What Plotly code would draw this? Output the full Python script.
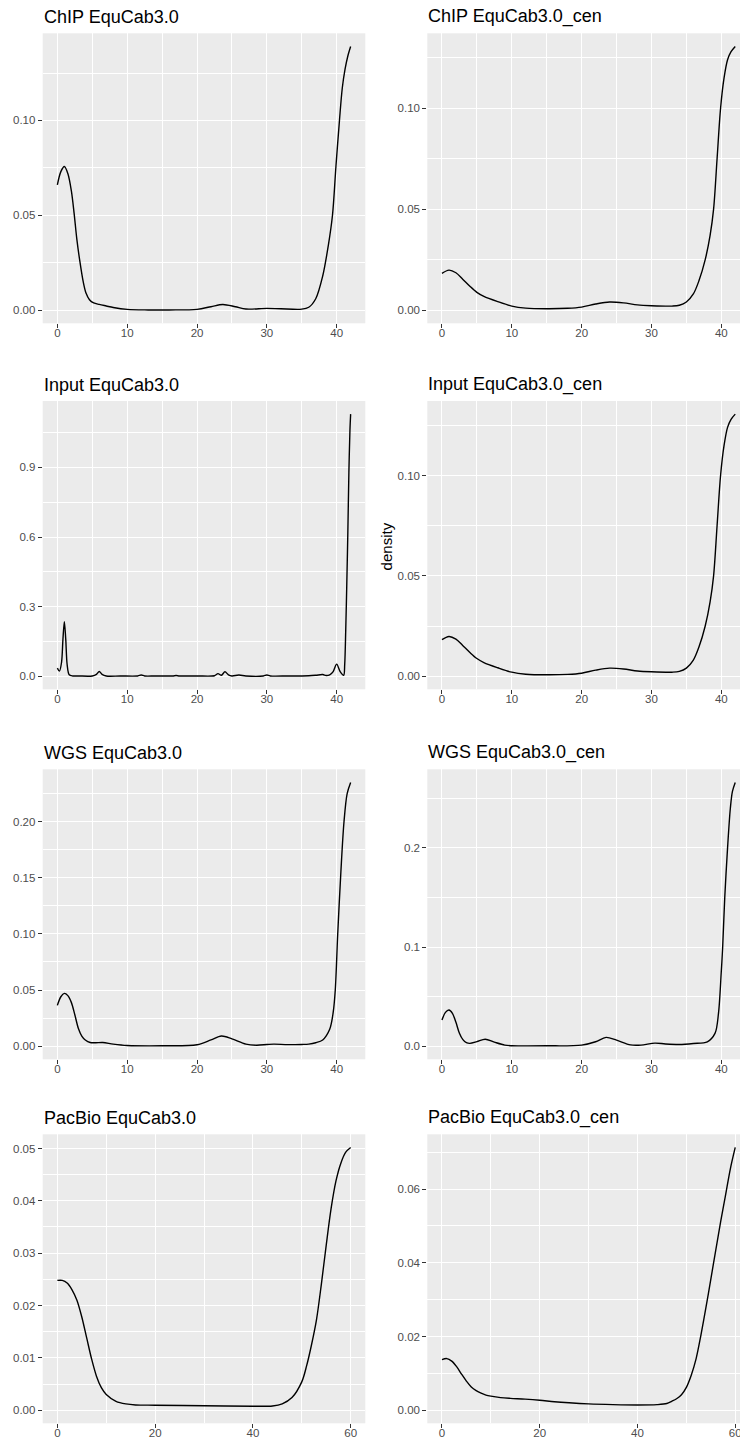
import plotly.graph_objects as go

# ---------------- data ----------------
titles = ["ChIP EquCab3.0", "ChIP EquCab3.0_cen",
          "Input EquCab3.0", "Input EquCab3.0_cen",
          "WGS EquCab3.0", "WGS EquCab3.0_cen",
          "PacBio EquCab3.0", "PacBio EquCab3.0_cen"]

chip_ref_x = [0, 0.5, 1, 1.5, 2, 2.4, 2.8, 3.25, 3.7, 4.1, 4.6, 5.2, 6, 7, 8, 10, 13, 16, 20, 22, 23.7,
              25.5, 27, 30, 32, 35, 36, 37, 38, 38.8, 39.4, 39.9, 40.4, 40.8, 41.2, 41.6, 42]
chip_ref_y = [0.066, 0.073, 0.0757, 0.072, 0.063, 0.051, 0.037, 0.025, 0.015, 0.009, 0.0055, 0.0038,
              0.003, 0.0022, 0.0014, 0.0004, 0.0001, 0.0001, 0.0004, 0.0018, 0.0030, 0.0018, 0.0006,
              0.0009, 0.0007, 0.0005, 0.0015, 0.006, 0.018, 0.034, 0.050, 0.076, 0.100, 0.117, 0.127,
              0.134, 0.139]

chip_cen_x = [0, 1, 2, 3, 4, 5, 6, 8, 10, 12, 15, 18, 20, 22, 24, 26, 28, 30, 33, 34, 35, 36, 36.8,
              37.7, 38.4, 38.9, 39.4, 39.9, 40.4, 40.9, 41.4, 42]
chip_cen_y = [0.0182, 0.0198, 0.0185, 0.0152, 0.0118, 0.0088, 0.0068, 0.0042, 0.0020, 0.0010, 0.0007,
              0.0009, 0.0015, 0.0030, 0.0040, 0.0036, 0.0026, 0.0022, 0.0020, 0.0024, 0.0040, 0.0080,
              0.0145, 0.025, 0.037, 0.050, 0.075, 0.100, 0.115, 0.124, 0.128, 0.1306]

input_ref_x = [0, 0.3, 0.6, 0.8, 1.0, 1.2, 1.4, 1.7, 2.2, 3, 5, 5.6, 6, 6.4, 7, 9, 11.5, 12, 12.5, 14,
               16.5, 17, 17.5, 20, 22.5, 23, 23.5, 24, 24.5, 25, 26, 27, 29.5, 30, 30.5, 33, 36, 37,
               38, 38.5, 39, 39.5, 40, 40.5, 41, 41.15, 41.3, 41.45, 41.6, 41.75, 41.9, 42]
input_ref_y = [0.035, 0.022, 0.06, 0.16, 0.235, 0.16, 0.05, 0.006, 0.001, 0.001, 0.001, 0.008, 0.02,
               0.008, 0.001, 0.001, 0.001, 0.005, 0.001, 0.001, 0.001, 0.003, 0.001, 0.001, 0.002,
               0.011, 0.004, 0.019, 0.006, 0.001, 0.005, 0.001, 0.001, 0.005, 0.001, 0.001, 0.002,
               0.004, 0.007, 0.003, 0.006, 0.02, 0.052, 0.02, 0.004, 0.05, 0.2, 0.4, 0.62, 0.88, 1.06,
               1.13]

input_cen_x = [0, 1, 2, 3, 4, 5, 6, 8, 10, 12, 15, 18, 20, 22, 24, 26, 28, 30, 33, 34, 35, 36, 36.8,
               37.7, 38.4, 38.9, 39.4, 39.9, 40.4, 40.9, 41.4, 42]
input_cen_y = [0.0182, 0.0198, 0.0185, 0.0152, 0.0118, 0.0088, 0.0068, 0.0042, 0.0020, 0.0010, 0.0007,
               0.0009, 0.0015, 0.0030, 0.0040, 0.0036, 0.0026, 0.0022, 0.0020, 0.0024, 0.0040, 0.0080,
               0.0145, 0.025, 0.037, 0.050, 0.075, 0.100, 0.115, 0.124, 0.128, 0.1306]

wgs_ref_x = [0, 0.5, 1, 1.5, 2, 2.5, 3, 3.5, 4, 4.7, 5.5, 6.5, 8, 10, 15, 20, 22, 23.5, 25, 27, 28.5,
             30, 31, 33, 35, 36, 37, 38, 39, 39.5, 39.8, 40.15, 40.6, 41.05, 41.5, 42]
wgs_ref_y = [0.0363, 0.044, 0.047, 0.045, 0.039, 0.028, 0.016, 0.009, 0.0055, 0.0032, 0.003, 0.0032,
             0.0018, 0.0006, 0.0003, 0.0012, 0.0055, 0.009, 0.0065, 0.0018, 0.0008, 0.0014, 0.0018,
             0.0013, 0.0015, 0.0018, 0.003, 0.0055, 0.015, 0.030, 0.050, 0.100, 0.155, 0.200, 0.225,
             0.235]

wgs_cen_x = [0, 0.5, 1, 1.5, 2, 2.5, 3, 3.5, 4, 5, 6.2, 7.5, 9, 10, 15, 20, 22, 23.5, 25, 27, 28.5,
             30.5, 32, 34, 36, 38, 39.1, 39.6, 40, 40.2, 40.5, 40.9, 41.3, 41.6, 42]
wgs_cen_y = [0.0263, 0.034, 0.0364, 0.033, 0.024, 0.013, 0.0065, 0.0035, 0.0028, 0.0045, 0.007, 0.004,
             0.001, 0.0004, 0.0003, 0.001, 0.0044, 0.0088, 0.006, 0.0012, 0.0010, 0.0030, 0.0022,
             0.0017, 0.0027, 0.0044, 0.0128, 0.033, 0.075, 0.100, 0.150, 0.200, 0.240, 0.257, 0.266]

pacbio_ref_x = [0, 1, 2, 3, 4, 5, 6, 7, 8, 9, 10, 12, 14, 16, 20, 30, 40, 44, 46, 48, 50, 51, 52, 53,
                54, 55, 56, 57, 58, 59, 60]
pacbio_ref_y = [0.0248, 0.0248, 0.0243, 0.0230, 0.0210, 0.0178, 0.0138, 0.0098, 0.0065, 0.0043,
                0.0030, 0.0017, 0.0012, 0.0010, 0.00095, 0.00085, 0.00076, 0.0008, 0.0012, 0.0024,
                0.0054, 0.0085, 0.0125, 0.0172, 0.0240, 0.0315, 0.0385, 0.0438, 0.0472, 0.0493,
                0.0502]

pacbio_cen_x = [0, 1, 2, 3, 4, 5, 6, 7, 8, 9, 10, 12, 14, 17, 20, 23, 26, 30, 35, 40, 44, 46, 47, 48,
                49, 50, 51, 52, 53, 54, 55, 56, 57, 58, 59, 60]
pacbio_cen_y = [0.0137, 0.0140, 0.0133, 0.0118, 0.0098, 0.0079, 0.0063, 0.0053, 0.0046, 0.0041,
                0.0038, 0.0034, 0.0032, 0.0030, 0.0027, 0.0023, 0.0020, 0.0017, 0.0015, 0.0014,
                0.0015, 0.0018, 0.0024, 0.0031, 0.0042, 0.0062, 0.0095, 0.0140, 0.0205, 0.0278,
                0.0355, 0.0433, 0.0510, 0.0582, 0.0655, 0.0713]

y_dticks = [0.05, 0.05, 0.3, 0.05, 0.05, 0.1, 0.01, 0.02]
y_formats = [".2f", ".2f", ".1f", ".2f", ".2f", ".1f", ".2f", ".2f"]
x_dticks = [10, 10, 10, 10, 10, 10, 20, 20]
y_axis_label = "density"

series = [(chip_ref_x, chip_ref_y), (chip_cen_x, chip_cen_y),
          (input_ref_x, input_ref_y), (input_cen_x, input_cen_y),
          (wgs_ref_x, wgs_ref_y), (wgs_cen_x, wgs_cen_y),
          (pacbio_ref_x, pacbio_ref_y), (pacbio_cen_x, pacbio_cen_y)]

# ---------------- layout ----------------
W, H = 740, 1441
FONT = "Arial, 'Liberation Sans', Helvetica, sans-serif"
row_px = [(33.3, 323.3), (401.0, 689.3), (769.3, 1059.3), (1134.3, 1423.3)]
col_px = [(42.7, 365.3), (427.3, 740.0)]
full_w = col_px[0][1] - col_px[0][0]

fig = go.Figure()
layout = dict(width=W, height=H, margin=dict(l=0, r=0, t=0, b=0, pad=0, autoexpand=False),
              paper_bgcolor="white", plot_bgcolor="#EBEBEB", showlegend=False,
              font=dict(family=FONT))
annotations = []

for i, ((xs, ys), title) in enumerate(zip(series, titles)):
    n = i + 1
    s = "" if n == 1 else str(n)
    r, c = divmod(i, 2)
    top, bot = row_px[r]
    left, right = col_px[c]
    xmin, xmax = min(xs), max(xs)
    xspan = xmax - xmin
    xlo, xhi = xmin - 0.05 * xspan, xmax + 0.05 * xspan
    # right-hand panels are cut off by the image edge
    xhi = xlo + (xhi - xlo) * (right - left) / full_w
    ymax = max(ys)
    ylo, yhi = -0.05 * ymax, ymax * 1.05

    fig.add_trace(go.Scatter(x=xs, y=ys, mode="lines", xaxis=f"x{s}", yaxis=f"y{s}",
                             line=dict(color="black", width=1.4, shape="spline", smoothing=0.9),
                             hoverinfo="skip", cliponaxis=True))
    common = dict(showgrid=True, gridcolor="white", gridwidth=1.4, zeroline=False, showline=False,
                  ticks="outside", ticklen=4, tickwidth=1.1, tickcolor="#333333",
                  tickfont=dict(size=11.5, color="#4D4D4D", family=FONT), tickmode="linear",
                  tick0=0, fixedrange=True, automargin=False)
    layout[f"xaxis{s}"] = dict(common, domain=[left / W, right / W], range=[xlo, xhi],
                               anchor=f"y{s}", dtick=x_dticks[i], ticklabelstandoff=-5,
                               ticklabeloverflow="allow",
                               minor=dict(tick0=0, dtick=x_dticks[i] / 2, showgrid=True,
                                          gridcolor="white", gridwidth=0.7))
    layout[f"yaxis{s}"] = dict(common, domain=[1 - bot / H, 1 - top / H], range=[ylo, yhi],
                               anchor=f"x{s}", dtick=y_dticks[i], tickformat=y_formats[i],
                               minor=dict(tick0=0, dtick=y_dticks[i] / 2, showgrid=True,
                                          gridcolor="white", gridwidth=0.7))
    annotations.append(dict(text=title, xref=f"x{s} domain", yref=f"y{s} domain", x=0, y=1,
                            xanchor="left", yanchor="bottom", yshift=4, xshift=-1,
                            showarrow=False, font=dict(size=18, color="black", family=FONT)))

annotations.append(dict(text=y_axis_label, xref="paper", yref="paper", x=386.7 / W,
                        y=1 - 546.7 / H, xanchor="center", yanchor="middle", textangle=-90,
                        showarrow=False, font=dict(size=15, color="black", family=FONT)))
layout["annotations"] = annotations
fig.update_layout(**layout)
fig.write_html(
    "out.html",
    config={"displayModeBar": False},
    post_script=("document.body.style.margin='0px';document.body.style.padding='0px';"
                 "document.documentElement.style.overflow='hidden';"),
)
